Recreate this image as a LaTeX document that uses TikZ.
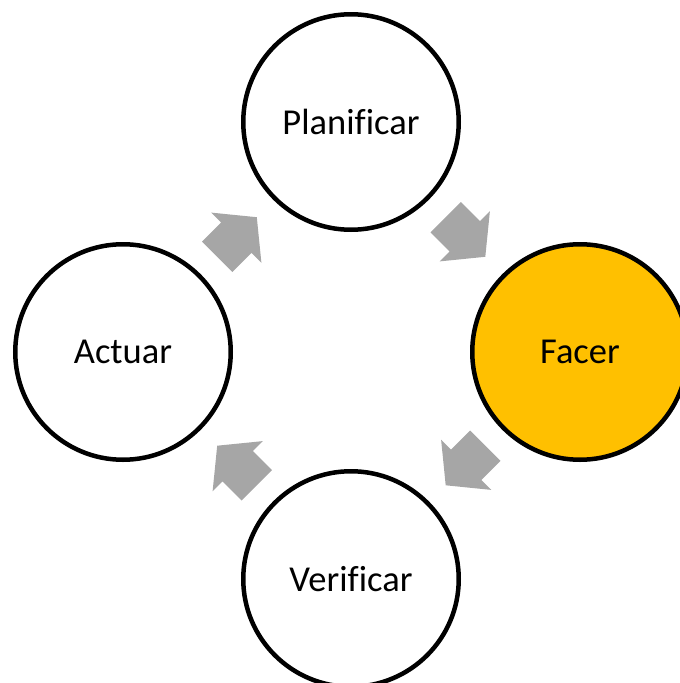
\documentclass[tikz,border=0pt]{standalone}
\usepackage{fontspec}
\setmainfont{Carlito}[Ligatures=NoCommon]
\usetikzlibrary{calc}
\definecolor{phasefill}{HTML}{FFC000}
\definecolor{arrowgray}{HTML}{A6A6A6}
\tikzset{
  phase/.style={circle, draw=black, line width=4.5pt, fill=white,
    minimum size=215.5pt, inner sep=0pt,
    font=\fontsize{36.5}{44}\selectfont},
  active/.style={phase, fill=phasefill},
  blockarrow/.pic={
    \fill[arrowgray] (-28,-21.5) -- (-1,-21.5) -- (-1,-35.5) -- (28,0)
      -- (-1,35.5) -- (-1,21.5) -- (-28,21.5) -- cycle;
  }
}
\begin{document}
\begin{tikzpicture}[x=1pt,y=-1pt]
  \useasboundingbox (0,0) rectangle (680,683);
  % the four phases of the cycle
  \node[phase]  (plan) at (351,122) {Planificar};
  \node[active] (do)   at (580,352) {Facer};
  \node[phase]  (chk)  at (351,579) {Verificar};
  \node[phase]  (act)  at (123,352) {Actuar};
  % block arrows between consecutive phases
  \pic[rotate=45]   (a1) at ($(act)!0.5!(plan)$) {blockarrow};
  \pic[rotate=-45]  (a2) at ($(plan)!0.5!(do)$)  {blockarrow};
  \pic[rotate=-135] (a3) at ($(do)!0.5!(chk)$)   {blockarrow};
  \pic[rotate=135]  (a4) at ($(chk)!0.5!(act)$)  {blockarrow};
\end{tikzpicture}
\end{document}
